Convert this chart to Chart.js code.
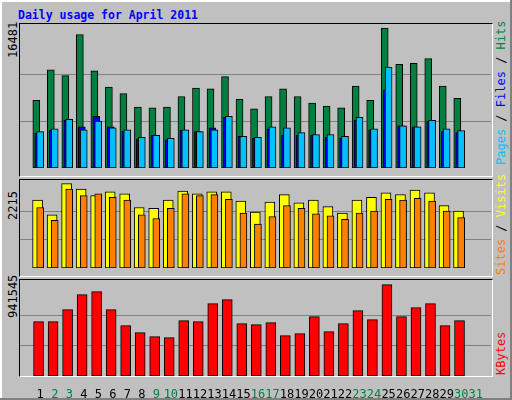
<!DOCTYPE html>
<html><head><meta charset="utf-8">
<script src="https://cdn.jsdelivr.net/npm/chart.js@4"></script>
<style>
body{margin:0;background:#fff}
#frame{position:absolute;left:0;top:0;width:510px;height:398px;background:#c0c0c0;border-right:2px solid #808080;border-bottom:2px solid #808080;box-sizing:content-box}
#frame2{position:absolute;left:0;top:0;width:508px;height:396px;border-left:2px solid #fff;border-top:2px solid #fff;}
.box{position:absolute;left:19px;width:472px;border-top:1px solid #000;border-left:1px solid #000;border-right:1px solid #fff;border-bottom:1px solid #fff}
canvas{position:absolute}
.t{position:absolute;font-family:"DejaVu Sans Mono",monospace;font-size:11.5px;white-space:nowrap}
.rot{transform-origin:0 0;transform:rotate(-90deg)}
</style></head><body>
<div id="frame"></div><div id="frame2"></div>
<div class="t" style="left:18px;top:8px;color:#0000ff;font-weight:bold">Daily usage for April 2011</div>
<div class="box" style="top:23px;height:152px"></div>
<div class="box" style="top:179px;height:96px"></div>
<div class="box" style="top:279px;height:96px"></div>
<canvas id="c1" style="left:20px;top:24px"></canvas>
<canvas id="c2" style="left:20px;top:180px"></canvas>
<canvas id="c3" style="left:20px;top:280px"></canvas>
<div class="t rot" style="left:6px;top:58px;font-size:12px">16481</div>
<div class="t rot" style="left:6px;top:220px;font-size:12px">2215</div>
<div class="t rot" style="left:6px;top:318px;font-size:12px">941545</div>
<div class="t rot" style="left:494px;top:165px;font-size:12px"><span style="color:#00c0ff">Pages</span> / <span style="color:#0000ff">Files</span> / <span style="color:#008040">Hits</span></div>
<div class="t rot" style="left:494px;top:275px;font-size:12px"><span style="color:#ff8000">Sites</span> / <span style="color:#ffff00">Visits</span></div>
<div class="t rot" style="left:494px;top:375px;font-size:12px;color:#ff0000">KBytes</div>
<script>
const days=[1,2,3,4,5,6,7,8,9,10,11,12,13,14,15,16,17,18,19,20,21,22,23,24,25,26,27,28,29,30,31];
const weekend=[2,3,9,10,16,17,23,24,30,31];
const hits=[7980,11560,10890,15735,11447,9546,8763,7196,7085,7196,8427,9434,9322,10776,8091,6973,8427,9322,8427,7644,7308,7085,9657,7980,16481,12230,12342,12902,9657,8203];
const files=[4288,4624,5742,4512,5519,4735,4512,3617,3841,3505,4512,4288,4512,6078,3729,3617,4847,4735,4176,3952,3952,3729,5966,4624,11895,4959,4847,5630,4624,4400];
const pages=[4101,4437,5630,4847,6078,4847,4325,3430,3841,3318,4437,4288,4735,5966,3729,3505,4624,3841,3841,3841,3617,3505,5630,4512,9210,4959,4847,5519,4288,4176];
const visits=[1782,1396,2215,2071,1902,1998,1950,1589,1565,1782,2022,1950,1998,1998,1758,1469,1733,1926,1709,1782,1613,1445,1782,1854,1974,1926,2046,1974,1637,1493];
const sites=[1589,1252,2071,1902,1950,1854,1782,1396,1300,1565,1950,1902,1926,1806,1445,1156,1348,1637,1565,1420,1372,1276,1445,1493,1806,1782,1830,1758,1493,1324];
const kbytes=[560000,560000,683800,838400,869400,683800,518900,446700,405500,395200,570400,560000,745700,786900,539500,529200,549800,415800,436400,611700,457000,539500,673500,580700,941545,611700,704400,745700,518900,570400];
const maxHits=16481, maxVisits=2215, maxKB=941545;

const pts=(arr,off)=>arr.map((v,i)=>({x:days[i]+off,y:v}));
function ds(arr,off,color,w){return {data:pts(arr,off),backgroundColor:color,borderColor:'#000',borderWidth:1,borderSkipped:false,barThickness:w,grouped:false};}
function yScale(max,f){return {display:true,min:0,max:max*f,border:{display:false},ticks:{display:false},
  afterBuildTicks:s=>{s.ticks=[{value:max/3},{value:2*max/3}]},
  grid:{color:'#808080',lineWidth:1,drawTicks:false}};}
function xScale(show){return {type:'linear',min:0.4,max:31.8,border:{display:false},grid:{display:false},
  afterBuildTicks:s=>{s.ticks=days.map(d=>({value:d+0.27}))},
  ticks:{display:show,autoSkip:false,maxRotation:0,padding:4,font:{family:'DejaVu Sans Mono',size:12},
    callback:(v,i)=>String(days[i]),color:c=>weekend.includes(days[c.index])?'#008040':'#000'},
  afterFit:s=>{if(show)s.height=22;}};}
function make(id,w,h,datasets,ymax,f,show){
  const c=document.getElementById(id);c.width=w;c.height=h;c.style.width=w+'px';c.style.height=h+'px';
  new Chart(c,{type:'bar',data:{datasets},options:{responsive:false,animation:false,devicePixelRatio:1,
    layout:{padding:0},plugins:{legend:{display:false},tooltip:{enabled:false}},
    scales:{x:xScale(show),y:yScale(ymax,f)}}});
}
make('c1',471,152,[ds(files,0.267,'#00c0ff',7),ds(pages,0.133,'#0000ff',7),ds(hits,0,'#008040',7)],maxHits,1.03,false);
make('c2',471,96,[ds(sites,0.267,'#ff8000',7),ds(visits,0.087,'#ffff00',10)],maxVisits,1.043,false);
make('c3',471,118,[ds(kbytes,0.155,'#ff0000',10)],maxKB,1.05,true);
</script></body></html>
